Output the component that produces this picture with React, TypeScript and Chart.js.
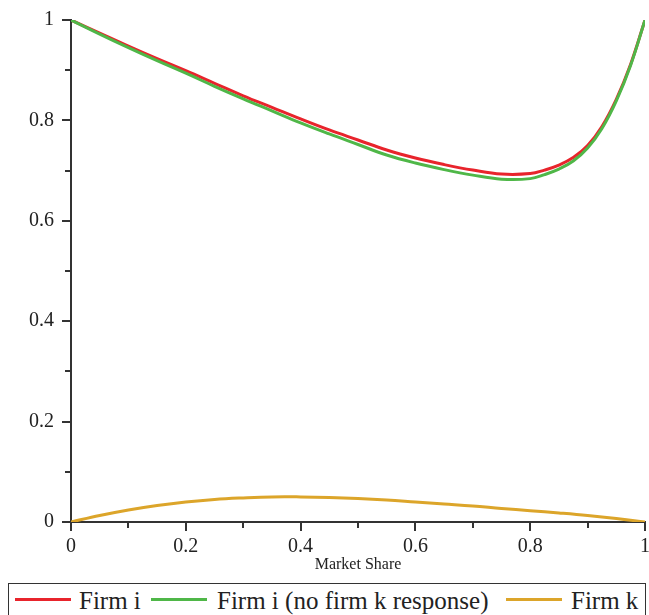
import React, { useEffect, useRef } from "react";
import { Chart, registerables } from "chart.js";

Chart.register(...registerables);

// ---- data ----
const shareX = [0, 0.05, 0.1, 0.15, 0.2, 0.25, 0.3, 0.35, 0.4, 0.45, 0.5, 0.55, 0.6, 0.65, 0.7, 0.75, 0.8, 0.825, 0.85, 0.875, 0.9, 0.925, 0.95, 0.975, 1];
const firmI = [1.0, 0.974, 0.948, 0.923, 0.899, 0.874, 0.849, 0.826, 0.803, 0.781, 0.761, 0.741, 0.725, 0.712, 0.701, 0.693, 0.694, 0.701, 0.711, 0.726, 0.75, 0.788, 0.842, 0.912, 1.0];
const firmINoResponse = [1.0, 0.972, 0.945, 0.919, 0.894, 0.868, 0.843, 0.819, 0.795, 0.773, 0.752, 0.731, 0.715, 0.702, 0.691, 0.683, 0.684, 0.692, 0.703, 0.719, 0.745, 0.784, 0.839, 0.91, 1.0];
const firmKX = [0, 0.05, 0.1, 0.15, 0.2, 0.25, 0.3, 0.35, 0.4, 0.45, 0.5, 0.55, 0.6, 0.65, 0.7, 0.75, 0.8, 0.85, 0.9, 0.95, 1];
const firmK = [0, 0.013, 0.024, 0.033, 0.04, 0.045, 0.048, 0.05, 0.05, 0.049, 0.047, 0.044, 0.04, 0.036, 0.032, 0.027, 0.0225, 0.018, 0.013, 0.007, 0];

const xTickLabels = ["0", "0.2", "0.4", "0.6", "0.8", "1"];
const yTickLabels = ["0", "0.2", "0.4", "0.6", "0.8", "1"];
const allTickValues = [0, 0.1, 0.2, 0.3, 0.4, 0.5, 0.6, 0.7, 0.8, 0.9, 1];
const majorTickValues = [0, 0.2, 0.4, 0.6, 0.8, 1];
const xTitle = "Market Share";
const seriesNames = ["Firm i", "Firm i (no firm k response)", "Firm k"];
const seriesColors = ["#e8242c", "#4fb748", "#dca52a"];

const FONT = '"Liberation Serif", "Times New Roman", serif';
const AXIS_COLOR = "#333333";
const PAGE_W = 649;
const CANVAS_W = 654;
const CANVAS_H = 583;

const tickPlugin = {
  id: "axisTicks",
  afterDraw(chart: any) {
    const { ctx, chartArea, scales } = chart;
    const xs = scales.x;
    const ys = scales.y;
    ctx.save();
    ctx.strokeStyle = AXIS_COLOR;
    ctx.lineWidth = 2;
    ctx.beginPath();
    for (const v of allTickValues) {
      const major = majorTickValues.some((m) => Math.abs(m - v) < 1e-9);
      const len = major ? 9 : 6;
      const px = Math.round(xs.getPixelForValue(v));
      ctx.moveTo(px, chartArea.bottom);
      ctx.lineTo(px, chartArea.bottom + len);
      const py = Math.round(ys.getPixelForValue(v));
      ctx.moveTo(chartArea.left, py);
      ctx.lineTo(chartArea.left - len, py);
    }
    ctx.stroke();
    ctx.restore();
  },
};

function App() {
  const canvasRef = useRef<HTMLCanvasElement | null>(null);

  useEffect(() => {
    if (!canvasRef.current) return;
    const mk = (xs: number[], ys: number[]) => xs.map((x, i) => ({ x, y: ys[i] }));
    const lineStyle = { borderWidth: 3, pointRadius: 0, tension: 0.4, fill: false };
    const chart = new Chart(canvasRef.current, {
      type: "line",
      data: {
        datasets: [
          { label: seriesNames[0], data: mk(shareX, firmI), borderColor: seriesColors[0], order: 1, ...lineStyle },
          { label: seriesNames[1], data: mk(shareX, firmINoResponse), borderColor: seriesColors[1], order: 0, ...lineStyle },
          { label: seriesNames[2], data: mk(firmKX, firmK), borderColor: seriesColors[2], order: 2, ...lineStyle },
        ],
      },
      options: {
        responsive: false,
        animation: false,
        devicePixelRatio: 1,
        layout: { padding: { top: 19, right: 0, bottom: 0, left: 0 } },
        plugins: { legend: { display: false }, tooltip: { enabled: false } },
        scales: {
          x: {
            type: "linear",
            min: 0,
            max: 1,
            grid: { drawOnChartArea: false, drawTicks: true, tickLength: 9, tickColor: "rgba(0,0,0,0)" },
            border: { display: true, color: AXIS_COLOR, width: 2 },
            ticks: {
              stepSize: 0.2,
              autoSkip: false,
              maxRotation: 0,
              padding: 4,
              color: "#222",
              font: { family: FONT, size: 20 },
              callback: (_v: any, i: number) => xTickLabels[i],
            },
            title: {
              display: true,
              text: xTitle,
              color: "#222",
              font: { family: FONT, size: 16 },
              padding: { top: 0, bottom: 9 },
            },
            afterFit: (scale: any) => {
              scale.height = 61;
            },
          },
          y: {
            type: "linear",
            min: 0,
            max: 1,
            grid: { drawOnChartArea: false, drawTicks: true, tickLength: 9, tickColor: "rgba(0,0,0,0)" },
            border: { display: true, color: AXIS_COLOR, width: 2 },
            ticks: {
              stepSize: 0.2,
              autoSkip: false,
              padding: 8,
              color: "#222",
              font: { family: FONT, size: 20 },
              callback: (_v: any, i: number) => yTickLabels[i],
            },
            afterFit: (scale: any) => {
              scale.width = 71;
            },
          },
        },
      },
      plugins: [tickPlugin],
    } as any);
    return () => chart.destroy();
  }, []);

  const legendLefts = [6, 142, 497];
  const legendGaps = [8, 10, 9];

  return (
    <div style={{ position: "absolute", left: 0, top: 0, width: PAGE_W, height: 615, overflow: "hidden", background: "#fff" }}>
      <canvas ref={canvasRef} width={CANVAS_W} height={CANVAS_H} style={{ display: "block", width: CANVAS_W, height: CANVAS_H }} />
      <div
        style={{
          position: "absolute",
          left: 8,
          top: 583,
          width: 638,
          height: 50,
          border: `1px solid ${AXIS_COLOR}`,
          boxSizing: "border-box",
        }}
      >
        {seriesNames.map((name, i) => (
          <div
            key={i}
            style={{ position: "absolute", left: legendLefts[i], top: 4, display: "flex", alignItems: "center", height: 26 }}
          >
            <span
              style={{
                display: "inline-block",
                width: 56,
                height: 3,
                background: seriesColors[i],
                marginRight: legendGaps[i],
                position: "relative",
                top: -2,
              }}
            />
            <span style={{ fontFamily: FONT, fontSize: 25, lineHeight: "26px", color: "#222", whiteSpace: "nowrap" }}>
              {name}
            </span>
          </div>
        ))}
      </div>
    </div>
  );
}

export default App;
